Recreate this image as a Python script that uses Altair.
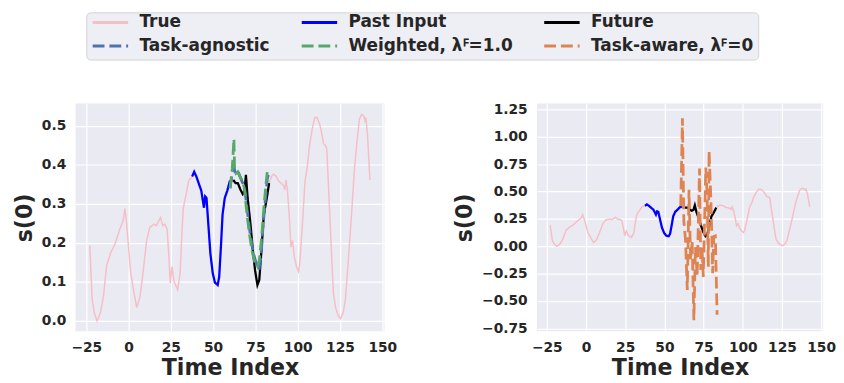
import altair as alt
import pandas as pd

# ---------------- data ----------------
before_x = [-22.9, -21.5, -20.2, -18.6, -16.7, -14.8, -12.9, -10.5, -8.0, -5.2, -3.2, -2.1, -1.3, 0.0, 1.2,
            2.9, 4.9, 6.8, 8.3, 10.7, 12.6, 15.1, 16.4, 18.9, 20.3, 21.4, 22.8, 23.8, 24.7, 25.7,
            27.0, 29.0, 30.5, 31.5, 32.4, 34.4, 35.7, 37.2]
before_y = [0.193, 0.055, 0.020, 0.000, 0.020, 0.063, 0.143, 0.175, 0.197, 0.235, 0.256, 0.288, 0.256, 0.190, 0.126,
            0.080, 0.034, 0.063, 0.113, 0.206, 0.240, 0.248, 0.244, 0.265, 0.244, 0.248, 0.235, 0.170, 0.097, 0.139,
            0.100, 0.080, 0.122, 0.220, 0.290, 0.332, 0.361, 0.367]

past_x = [37.6, 38.8, 40.1, 42.1, 43.0, 44.6, 45.3, 46.1, 46.9, 48.4, 49.8, 51.1, 52.7, 53.6, 54.6,
          55.6, 56.9, 58.4, 59.8, 61.3]
past_y = [0.370, 0.382, 0.370, 0.345, 0.334, 0.290, 0.319, 0.315, 0.265, 0.172, 0.122, 0.098, 0.092, 0.113, 0.189,
          0.273, 0.315, 0.334, 0.357, 0.361]

future_x = [61.9, 63.3, 64.6, 66.2, 67.5, 68.5, 69.4, 70.4, 71.9, 73.5, 74.8, 76.2, 77.3, 78.7, 80.0, 81.6, 83.1]
future_y = [0.361, 0.353, 0.353, 0.336, 0.325, 0.332, 0.374, 0.315, 0.256, 0.181, 0.130, 0.092, 0.105, 0.189,
            0.273, 0.311, 0.353]

after_x = [84.5, 85.8, 87.4, 88.9, 90.2, 91.6, 92.4, 93.1, 93.9, 95.1, 96.0, 97.0, 98.0, 99.3, 100.5, 101.2,
           102.8, 104.3, 105.7, 107.0, 108.6, 110.1, 111.4, 113.0, 114.3, 115.3, 116.3, 117.2, 118.6, 120.1,
           121.1, 122.4, 124.0, 125.3, 126.9, 128.2, 129.8, 131.7, 133.6, 135.0, 136.5, 137.8, 139.0, 139.8,
           140.3, 141.3, 142.7]
after_y = [0.370, 0.376, 0.370, 0.357, 0.353, 0.347, 0.336, 0.361, 0.336, 0.265, 0.189, 0.206, 0.164, 0.139,
           0.126, 0.147, 0.248, 0.357, 0.395, 0.450, 0.492, 0.521, 0.521, 0.504, 0.479, 0.454, 0.450, 0.441,
           0.307, 0.164, 0.071, 0.034, 0.013, 0.006, 0.021, 0.055, 0.147, 0.265, 0.391, 0.458, 0.517, 0.529,
           0.525, 0.513, 0.521, 0.475, 0.361]

agnostic_x = [60.0, 61.3, 62.3, 63.3, 65.2, 67.1, 68.5, 70.0, 71.9, 73.9, 75.8, 77.1, 78.3, 79.6, 81.0, 82.1, 82.9]
agnostic_y = [0.340, 0.378, 0.395, 0.374, 0.378, 0.357, 0.345, 0.290, 0.223, 0.172, 0.143, 0.130, 0.164, 0.248,
              0.315, 0.366, 0.378]

weighted_x = [60.0, 61.3, 62.3, 62.7, 63.6, 64.6, 65.8, 67.1, 68.5, 69.6, 71.2, 72.9, 74.8, 76.2, 77.3, 78.7,
              80.0, 81.2, 82.0, 82.7]
weighted_y = [0.340, 0.390, 0.466, 0.390, 0.378, 0.382, 0.370, 0.361, 0.340, 0.290, 0.231, 0.181, 0.147, 0.139,
              0.155, 0.214, 0.290, 0.349, 0.382, 0.386]

aware_x = [60.4, 61.5, 62.4, 63.5, 64.6, 65.7, 66.7, 67.7, 68.8, 69.8, 70.9, 72.4, 73.2, 74.0, 74.8, 76.4,
           77.2, 78.0, 78.5, 79.7, 80.8, 81.5, 82.5, 83.6]
aware_y = [0.367, 1.170, 0.230, 0.050, -0.400, 0.517, -0.127, 0.050, -0.675, -0.007, -0.277, 0.711, -0.217,
           -0.007, -0.280, 0.720, 0.500, -0.187, 0.870, 0.410, -0.247, 0.090, 0.095, -0.625]

true_x = before_x + past_x + future_x + after_x
true_y = before_y + past_y + future_y + after_y

# legend order (filled column by column, 3 columns x 2 rows)
SERIES = ["True", "Task-agnostic", "Past Input",
          "Weighted, \u03bb\ua7f3=1.0", "Future", "Task-aware, \u03bb\ua7f3=0"]
COLORS = ["#f6bec7", "#4c72b0", "#0000ff", "#55a868", "#000000", "#dd8452"]
DASHES = [[1, 0], [12, 5], [1, 0], [12, 5], [1, 0], [12, 5]]
WIDTHS = [1.5, 2.8, 2.3, 2.8, 2.3, 2.8]

X_TICKS = [-25, 0, 25, 50, 75, 100, 125, 150]
Y_TICKS_L = [0.0, 0.1, 0.2, 0.3, 0.4, 0.5]
Y_TICKS_R = [-0.75, -0.5, -0.25, 0.0, 0.25, 0.5, 0.75, 1.0, 1.25]


def frame(name, xs, ys):
    return pd.DataFrame({"x": xs, "y": ys, "series": name})


left_data = [
    frame("True", true_x, true_y),
    frame("Past Input", past_x, past_y),
    frame("Future", future_x, future_y),
    frame("Task-agnostic", agnostic_x, agnostic_y),
    frame(SERIES[3], weighted_x, weighted_y),
]
right_data = [
    frame("True", true_x, true_y),
    frame("Past Input", past_x, past_y),
    frame("Future", future_x, future_y),
    frame(SERIES[5], aware_x, aware_y),
]

FONT = "DejaVu Sans"
legend = alt.Legend(
    title=None, orient="none", legendX=10.9, legendY=-92.7, columns=3,
    symbolType="stroke", symbolSize=1296, symbolStrokeWidth=3, clipHeight=10,
    labelFont=FONT, labelFontSize=17.2, labelFontWeight="bold", labelColor="#262626",
    labelOffset=10, columnPadding=30.5, rowPadding=6.2, padding=5, labelLimit=0,
    fillColor="#eeeef5", strokeColor="#d3d3d3", cornerRadius=4,
)
color_scale = alt.Scale(domain=SERIES, range=COLORS)
dash_scale = alt.Scale(domain=SERIES, range=DASHES)
x_scale = alt.Scale(domain=[-31.3, 151.3], nice=False, zero=False)


def panel(frames, y_domain, y_ticks, y_fmt, width, height):
    layers = []
    for df in frames:
        name = df["series"].iloc[0]
        w = WIDTHS[SERIES.index(name)]
        layers.append(
            alt.Chart(df).mark_line(strokeWidth=w, clip=True).encode(
                x=alt.X("x:Q", scale=x_scale,
                        axis=alt.Axis(values=X_TICKS, title="Time Index", titlePadding=2)),
                y=alt.Y("y:Q", scale=alt.Scale(domain=y_domain, nice=False, zero=False),
                        axis=alt.Axis(values=y_ticks, format=y_fmt, title="s(0)", titlePadding=5)),
                color=alt.Color("series:N", scale=color_scale, legend=legend),
                strokeDash=alt.StrokeDash("series:N", scale=dash_scale, legend=legend),
            )
        )
    return alt.layer(*layers).properties(width=width, height=height)


left = panel(left_data, [-0.0267, 0.557], Y_TICKS_L, ".1f", 314, 231.6)
right = panel(right_data, [-0.777, 1.304], Y_TICKS_R, ".2f", 291, 231.6)

chart = alt.hconcat(left, right, spacing=57).properties(
    padding={"left": 5.7, "top": 0, "right": 0, "bottom": 0}
).configure_view(
    fill="#eaeaf2", stroke=None
).configure_axis(
    labelFont=FONT, labelFontSize=14, labelFontWeight="bold", labelColor="#262626",
    titleFont=FONT, titleFontSize=22.5, titleFontWeight="bold", titleColor="#262626",
    grid=True, gridColor="#ffffff", gridWidth=1.2, domain=False, ticks=False, labelPadding=10,
)

chart.save("out.html", embed_options={"renderer": "svg", "actions": False})
